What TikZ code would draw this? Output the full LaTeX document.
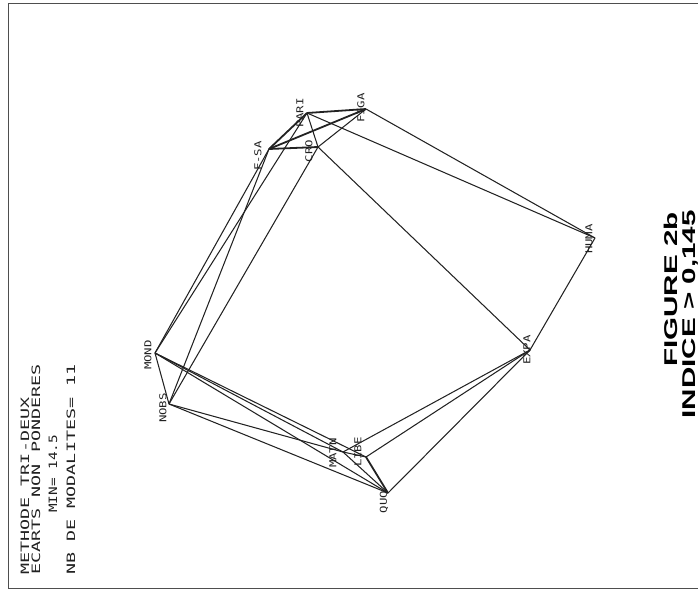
\documentclass[tikz,border=0pt]{standalone}
\usepackage{fontspec}
\usepackage{graphicx}
\newfontfamily\plotfont{DejaVu Sans Mono}
\newfontfamily\capfont{Liberation Sans}
\definecolor{ink}{HTML}{222222}
\tikzset{
  edge/.style={draw=ink, line width=1.05pt},
  heavy/.style={draw=ink, line width=1.8pt},
  frame/.style={draw=ink!80, line width=0.8pt},
  lbl/.style={rotate=90, inner sep=0pt, text=ink, font=\plotfont\fontsize{9.5}{10}\selectfont},
  info/.style={rotate=90, inner sep=0pt, anchor=base west, text=ink, font=\plotfont\fontsize{11.5}{12}\selectfont},
  caption/.style={rotate=90, inner sep=0pt, anchor=base east, text=black, font=\capfont\bfseries\fontsize{18.5}{20}\selectfont},
}
\begin{document}
\begin{tikzpicture}[x=1pt,y=-1pt]
\useasboundingbox (0,0) rectangle (698,591);
\draw[frame] (8,3) rectangle (710,588);

% vertices
\coordinate (FSA)  at (269,149);
\coordinate (PARI) at (307,113);
\coordinate (FIGA) at (366,109);
\coordinate (CRO)  at (318,147);
\coordinate (HUMA) at (595,238);
\coordinate (EXPA) at (530,350);
\coordinate (QUO)  at (388,493);
\coordinate (LIBE) at (366,457);
\coordinate (MATN) at (343,452);
\coordinate (MOND) at (155,353);
\coordinate (NOBS) at (169,404);

% edges
\draw[heavy] (FSA) -- (FIGA);
\draw[heavy] (FSA) -- (CRO);
\draw[heavy] (PARI) -- (FIGA);
\draw[heavy] (FSA) -- (PARI);
\draw[heavy] (LIBE) -- (QUO);
\draw[edge] (PARI) -- (CRO);
\draw[edge] (CRO) -- (FIGA);
\draw[edge] (PARI) -- (HUMA);
\draw[edge] (FIGA) -- (HUMA);
\draw[edge] (CRO) -- (EXPA);
\draw[edge] (HUMA) -- (EXPA);
\draw[edge] (FSA) -- (MOND);
\draw[edge] (PARI) -- (MOND);
\draw[edge] (FSA) -- (NOBS);
\draw[edge] (CRO) -- (NOBS);
\draw[edge] (MOND) -- (NOBS);
\draw[edge] (MOND) -- (MATN);
\draw[edge] (MOND) -- (LIBE);
\draw[edge] (MOND) -- (QUO);
\draw[edge] (NOBS) -- (MATN);
\draw[edge] (NOBS) -- (QUO);
\draw[edge] (MATN) -- (LIBE);
\draw[edge] (MATN) -- (QUO);
\draw[edge] (EXPA) -- (MATN);
\draw[edge] (EXPA) -- (LIBE);
\draw[edge] (EXPA) -- (QUO);

% labels
\node[lbl] (lFSA)  at (258,156) {\scalebox{1.3}[1]{F-SA}};
\node[lbl] (lPARI) at (300,113) {\scalebox{1.3}[1]{PARI}};
\node[lbl] (lFIGA) at (361,108) {\scalebox{1.3}[1]{FIGA}};
\node[lbl] (lCRO)  at (309,151) {\scalebox{1.3}[1]{CRO}};
\node[lbl] (lHUMA) at (589,239) {\scalebox{1.3}[1]{HUMA}};
\node[lbl] (lEXPA) at (527,350) {\scalebox{1.3}[1]{EXPA}};
\node[lbl] (lQUO)  at (384,502) {\scalebox{1.3}[1]{QUO}};
\node[lbl] (lLIBE) at (358,452) {\scalebox{1.3}[1]{LIBE}};
\node[lbl] (lMATN) at (333,453) {\scalebox{1.3}[1]{MATN}};
\node[lbl] (lMOND) at (148,355) {\scalebox{1.3}[1]{MOND}};
\node[lbl] (lNOBS) at (163,408) {\scalebox{1.3}[1]{NOBS}};

% info block
\node[info] (i1) at (29,575) {\scalebox{1.6}[1]{METHODE TRI-DEUX}};
\node[info] (i2) at (40,575) {\scalebox{1.6}[1]{ECARTS NON PONDERES}};
\node[info] (i3) at (57,513) {\scalebox{1.25}[1]{MIN= 14.5}};
\node[info] (i4) at (75,575) {\scalebox{1.6}[1]{NB DE MODALITES= 11}};

% caption
\node[caption] (c1) at (677,212) {\scalebox{1.6}[1]{FIGURE 2b}};
\node[caption] (c2) at (695,210) {\scalebox{1.6}[1]{INDICE > 0,145}};
\end{tikzpicture}
\end{document}
